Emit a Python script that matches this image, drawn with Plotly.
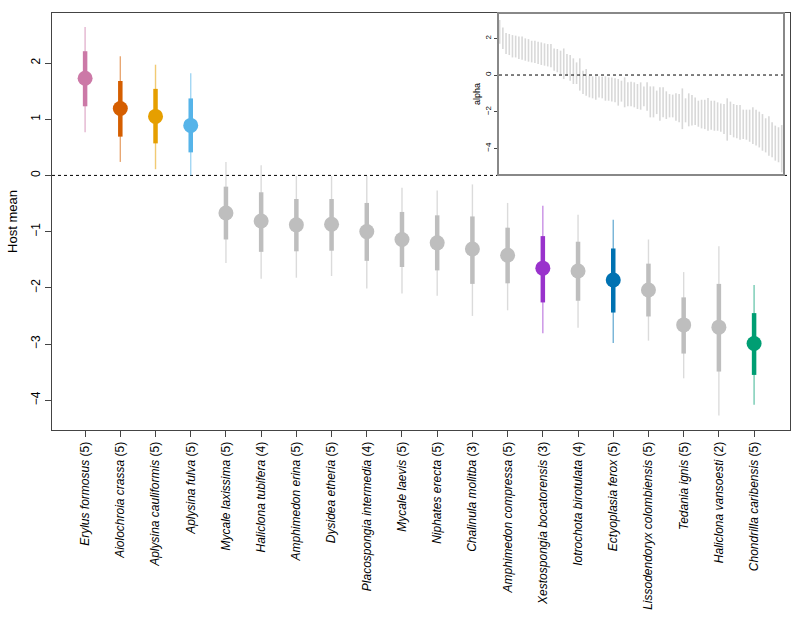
import plotly.graph_objects as go

# ---------------- data ----------------
species = ["Erylus formosus", "Aiolochroia crassa", "Aplysina cauliformis", "Aplysina fulva",
           "Mycale laxissima", "Haliclona tubifera", "Amphimedon erina", "Dysidea etheria",
           "Placospongia intermedia", "Mycale laevis", "Niphates erecta", "Chalinula molitba",
           "Amphimedon compressa", "Xestospongia bocatorensis", "Iotrochota birotulata",
           "Ectyoplasia ferox", "Lissodendoryx colombiensis", "Tedania ignis",
           "Haliclona vansoesti", "Chondrilla caribensis"]
n_samples = [5, 5, 5, 5, 5, 4, 5, 5, 4, 5, 5, 3, 5, 3, 4, 5, 5, 5, 2, 5]
host_mean = [1.73, 1.19, 1.05, 0.89, -0.67, -0.81, -0.88, -0.87, -1.00, -1.14,
             -1.20, -1.31, -1.42, -1.65, -1.70, -1.86, -2.04, -2.66, -2.70, -2.99]
inner_lo = [1.23, 0.69, 0.57, 0.41, -1.14, -1.36, -1.35, -1.34, -1.52, -1.63,
            -1.69, -1.93, -1.92, -2.26, -2.23, -2.44, -2.51, -3.17, -3.49, -3.55]
inner_hi = [2.21, 1.68, 1.54, 1.37, -0.20, -0.30, -0.42, -0.42, -0.49, -0.65,
            -0.71, -0.73, -0.93, -1.08, -1.18, -1.30, -1.57, -2.17, -1.93, -2.45]
outer_lo = [0.77, 0.24, 0.11, 0.00, -1.56, -1.84, -1.82, -1.79, -2.01, -2.10,
            -2.14, -2.50, -2.40, -2.81, -2.71, -2.98, -2.94, -3.61, -4.27, -4.08]
outer_hi = [2.64, 2.12, 1.97, 1.82, 0.24, 0.18, -0.01, -0.01, -0.01, -0.22,
            -0.27, -0.16, -0.49, -0.54, -0.70, -0.79, -1.14, -1.72, -1.26, -1.95]
colors = ["#CC79A7", "#D55E00", "#E69F00", "#56B4E9", "#BEBEBE", "#BEBEBE", "#BEBEBE",
          "#BEBEBE", "#BEBEBE", "#BEBEBE", "#BEBEBE", "#BEBEBE", "#BEBEBE", "#9932CC",
          "#BEBEBE", "#0072B2", "#BEBEBE", "#BEBEBE", "#BEBEBE", "#009E73"]

# inset: alpha intervals
alpha_hi = [3.00, 2.60, 2.29, 2.24, 2.18, 2.15, 2.10, 2.10, 2.00, 1.96,
            1.87, 1.87, 1.82, 1.78, 1.73, 1.69, 1.69, 1.45, 1.42, 1.33,
            1.45, 1.15, 1.09, 0.91, 0.69, 0.91, 0.24, 0.33, -0.04, -0.07,
            -0.07, -0.07, -0.09, -0.07, -0.13, -0.13, -0.18, -0.22, -0.31, -0.13,
            -0.40, -0.36, -0.40, -0.49, -0.40, -0.62, -0.40, -0.62, -0.62, -0.85,
            -0.67, -0.67, -0.89, -1.04, -1.07, -1.00, -1.04, -0.73, -1.27, -1.00,
            -1.09, -1.22, -1.40, -1.35, -1.35, -1.25, -1.40, -1.40, -1.49, -1.55,
            -1.58, -1.27, -1.45, -1.58, -1.64, -1.64, -1.89, -1.89, -1.89, -1.76,
            -1.89, -2.00, -2.13, -2.36, -2.25, -2.58, -2.76, -2.85, -2.73]
alpha_lo = [1.70, 1.42, 1.15, 1.09, 0.96, 0.96, 0.87, 0.84, 0.78, 0.73,
            0.69, 0.65, 0.60, 0.55, 0.51, 0.47, 0.42, 0.24, 0.15, 0.05,
            -0.22, -0.04, -0.31, -0.49, -0.49, -0.85, -1.04, -1.13, -1.22, -1.27,
            -1.35, -1.22, -1.27, -1.40, -1.40, -1.45, -1.49, -1.67, -1.45, -1.76,
            -1.71, -1.71, -1.76, -1.85, -1.89, -1.71, -1.95, -2.31, -2.31, -2.13,
            -2.49, -2.31, -2.40, -2.31, -2.31, -2.49, -2.58, -2.95, -2.58, -2.80,
            -2.76, -2.73, -2.82, -2.91, -2.95, -3.04, -2.98, -3.04, -3.04, -3.09,
            -3.22, -3.58, -3.27, -3.40, -3.45, -3.53, -3.49, -3.53, -3.64, -3.76,
            -3.85, -3.95, -4.13, -4.22, -4.40, -4.49, -4.67, -4.76, -5.31]

main_yticks = [-4, -3, -2, -1, 0, 1, 2]
inset_yticks = [-4, -2, 0, 2]


def rgba(hex_color, a):
    h = hex_color.lstrip("#")
    r, g, b = int(h[0:2], 16), int(h[2:4], 16), int(h[4:6], 16)
    return f"rgba({r},{g},{b},{a})"


FONT = "Liberation Sans, Arial, Helvetica, sans-serif"
xpos = list(range(1, len(species) + 1))
ticktext = [f"<i>{s}</i> ({k})" for s, k in zip(species, n_samples)]

fig = go.Figure()

for i, x in enumerate(xpos):
    c = colors[i]
    fig.add_trace(go.Scatter(x=[x, x], y=[outer_lo[i], outer_hi[i]], mode="lines",
                             line=dict(color=rgba(c, 0.55), width=1.4),
                             hoverinfo="skip", showlegend=False))
    fig.add_trace(go.Scatter(x=[x, x], y=[inner_lo[i], inner_hi[i]], mode="lines",
                             line=dict(color=c, width=4.5),
                             hoverinfo="skip", showlegend=False))

fig.add_trace(go.Scatter(x=xpos, y=host_mean, mode="markers",
                         marker=dict(color=colors, size=15, line=dict(width=0)),
                         showlegend=False))

# inset bars
ax, ay = [], []
for j, (lo, hi) in enumerate(zip(alpha_lo, alpha_hi)):
    ax += [j + 1, j + 1, None]
    ay += [lo, hi, None]
fig.add_trace(go.Scatter(x=ax, y=ay, mode="lines", xaxis="x2", yaxis="y2",
                         line=dict(color="rgba(190,190,190,0.6)", width=1.6),
                         hoverinfo="skip", showlegend=False, connectgaps=False))

# zero lines
fig.add_shape(type="line", xref="x domain", yref="y", x0=0, x1=1, y0=0, y1=0,
              line=dict(color="black", width=1, dash="dot"), layer="below")
fig.add_shape(type="line", xref="x2 domain", yref="y2", x0=0, x1=1, y0=0, y1=0,
              line=dict(color="black", width=1, dash="dot"))

fig.update_layout(
    width=800, height=632,
    margin=dict(l=52, r=10, t=13, b=202, autoexpand=False),
    paper_bgcolor="white", plot_bgcolor="white",
    font=dict(family=FONT, size=12, color="black"),
    xaxis=dict(range=[0.06, 21.02], tickmode="array", tickvals=xpos, ticktext=ticktext,
               tickangle=-90, ticks="outside", ticklen=6, tickcolor="#444",
               showline=True, linecolor="#444", linewidth=1, mirror=True,
               showgrid=False, zeroline=False, tickfont=dict(family=FONT, size=12),
               automargin=False),
    yaxis=dict(range=[-4.53, 2.89], tickmode="array", tickvals=main_yticks,
               ticktext=[str(v).replace("-", "\u2212") for v in main_yticks],
               tickangle=-90, ticks="outside", ticklen=6, tickcolor="#444",
               tickfont=dict(family=FONT, size=12),
               showline=True, linecolor="#444", linewidth=1, mirror=True,
               showgrid=False, zeroline=False, automargin=False,
               title=dict(text="Host mean", font=dict(family=FONT, size=13), standoff=8)),
    xaxis2=dict(domain=[0.6057, 0.9905], anchor="y2", range=[0.8, 89.4],
                showticklabels=False, ticks="", showline=True, linecolor="#888",
                linewidth=2, mirror=True, showgrid=False, zeroline=False, automargin=False),
    yaxis2=dict(domain=[0.6139, 0.9976], anchor="x2", range=[-5.4, 3.33],
                tickmode="array", tickvals=inset_yticks,
                ticktext=[str(v).replace("-", "\u2212") for v in inset_yticks],
                tickangle=-90, ticks="outside", ticklen=3, tickcolor="#444",
                tickfont=dict(family=FONT, size=8), showline=True, linecolor="#888",
                linewidth=2, mirror=True, showgrid=False, zeroline=False, automargin=False,
                title=dict(text="alpha", font=dict(family=FONT, size=9), standoff=2)),
)

fig.write_html("out.html", config={"displayModeBar": False},
               post_script="document.body.style.margin='0';document.body.style.padding='0';")
